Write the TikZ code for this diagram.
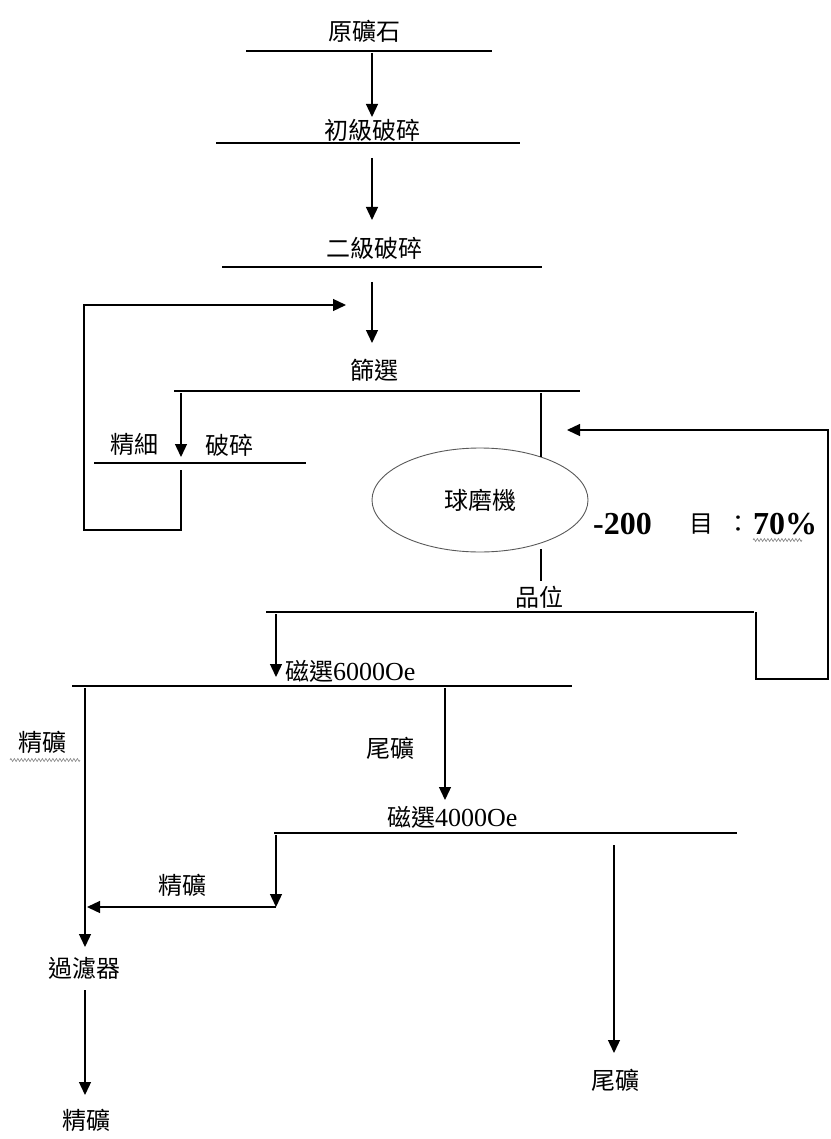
\documentclass[tikz,border=0pt]{standalone}
\usepackage{fontspec}
\setmainfont{Liberation Serif}
\newfontfamily\cjk{Noto Sans CJK TC}
\usetikzlibrary{arrows.meta,shapes.geometric,decorations.pathmorphing}

\begin{document}
\begin{tikzpicture}[
        x=1pt, y=-1pt,
        bar/.style={line width=2.8pt},
        flow/.style={line width=1.3pt},
        lbl/.style={font=\fontsize{24}{28}\selectfont\cjk, inner sep=1pt},
        num/.style={font=\fontsize{26}{30}\selectfont, inner sep=1pt},
        big/.style={font=\fontsize{32}{36}\selectfont\bfseries, inner sep=1pt},
        squig/.style={draw=gray, line width=0.6pt, decorate,
            decoration={zigzag, amplitude=1.5pt, segment length=3.5pt}},
        >={Triangle[length=13pt, width=12pt]}
    ]
    \useasboundingbox (0,0) rectangle (830,1139);

    % labels
    \node[lbl] (raw) at (364,31) {原礦石};
    \node[lbl] (prim) at (372,130) {初級破碎};
    \node[lbl] (sec) at (374,248) {二級破碎};
    \node[lbl] (screen) at (374,370) {篩選};
    \node[lbl] (fineA) at (134,445) {精細};
    \node[lbl] (fineB) at (229,445) {破碎};
    \node[lbl, draw=gray!70!black, line width=0.9pt, ellipse,
        minimum width=216pt, minimum height=104pt] (mill) at (480,500) {球磨機};
    \node[big, anchor=west] (mesh) at (592,524) {-200};
    \node[lbl] (mu) at (701,524) {目};
    \node[lbl] (colon) at (738,524) {：};
    \node[big, anchor=west] (pct) at (752,524) {70\%};
    \node[lbl] (grade) at (539,597) {品位};
    \node[num, anchor=west] (magA) at (284,671) {{\cjk\fontsize{24}{28}\selectfont 磁選}6000Oe};
    \node[lbl] (concA) at (42,742) {精礦};
    \node[lbl] (tailA) at (390,748) {尾礦};
    \node[num, anchor=west] (magB) at (386,817) {{\cjk\fontsize{24}{28}\selectfont 磁選}4000Oe};
    \node[lbl] (concB) at (182,885) {精礦};
    \node[lbl] (filter) at (84,968) {過濾器};
    \node[lbl] (tailB) at (615,1080) {尾礦};
    \node[lbl] (concC) at (86,1120) {精礦};

    % bar ends and corners
    \coordinate (b0l) at (246,51);  \coordinate (b0r) at (492,51);
    \coordinate (b1l) at (216,143); \coordinate (b1r) at (520,143);
    \coordinate (b2l) at (222,267); \coordinate (b2r) at (542,267);
    \coordinate (b3l) at (174,391); \coordinate (b3r) at (580,391);
    \coordinate (b4l) at (94,463);  \coordinate (b4r) at (306,463);
    \coordinate (b5l) at (266,612); \coordinate (b5r) at (754,612);
    \coordinate (b6l) at (72,686);  \coordinate (b6r) at (572,686);
    \coordinate (b7l) at (274,833); \coordinate (b7r) at (737,833);
    \coordinate (loopin) at (346,305);
    \coordinate (millin) at (567,430);
    \coordinate (c1) at (276,907);

    \foreach \b in {0,...,7}
        \draw[bar] (b\b l) -- (b\b r);

    % flow lines
    \draw[flow, ->] (372,53) -- (372,117);
    \draw[flow, ->] (372,158) -- (372,220);
    \draw[flow, ->] (372,282) -- (372,343);
    \draw[flow, ->] (181,393) -- (181,457);
    \draw[flow, ->] (181,470) -- (181,530) -- (84,530) -- (84,305) -- (loopin);
    \draw[flow] (541,393) -- (541,457);
    \draw[flow] (541,549) -- (541,581);
    \draw[flow, ->] (276,614) -- (276,677);
    \draw[flow, ->] (756,612) -- (756,679) -- (828,679) -- (828,430) -- (millin);
    \draw[flow, ->] (85,688) -- (85,947);
    \draw[flow, ->] (445,688) -- (445,800);
    \draw[flow, ->] (276,835) -- (c1);
    \draw[flow, ->] (c1) -- (87,907);
    \draw[flow, ->] (614,845) -- (614,1053);
    \draw[flow, ->] (85,990) -- (85,1095);

    % squiggles
    \draw[squig] (753,540) -- (802,540);
    \draw[squig] (10,760) -- (80,760);
\end{tikzpicture}
\end{document}
